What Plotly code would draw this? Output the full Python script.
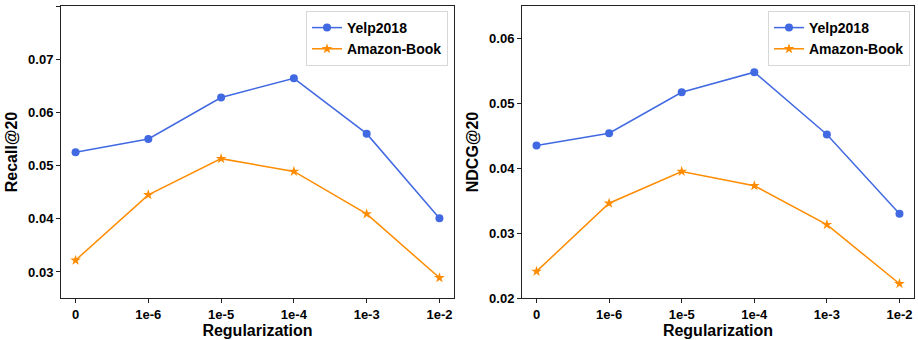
import plotly.graph_objects as go

categories = ["0", "1e-6", "1e-5", "1e-4", "1e-3", "1e-2"]
recall_yelp = [0.0525, 0.0550, 0.0628, 0.0664, 0.0560, 0.0401]
recall_amazon = [0.0322, 0.0445, 0.0513, 0.0489, 0.0409, 0.0289]
ndcg_yelp = [0.0435, 0.0454, 0.0517, 0.0548, 0.0452, 0.0330]
ndcg_amazon = [0.0241, 0.0346, 0.0395, 0.0373, 0.0313, 0.0222]

BLUE = "#4169E1"
ORANGE = "#FF8C00"
FONT = "Liberation Sans"

fig = go.Figure()

def add(y, name, color, symbol, size, xa, ya, legend):
    fig.add_trace(go.Scatter(
        x=categories, y=y, name=name, mode="lines+markers",
        line=dict(color=color, width=1.5),
        marker=dict(symbol=symbol, size=size, color=color),
        xaxis=xa, yaxis=ya, legend=legend,
    ))

add(recall_yelp, "Yelp2018", BLUE, "circle", 8, "x", "y", "legend")
add(recall_amazon, "Amazon-Book", ORANGE, "star", 8, "x", "y", "legend")
add(ndcg_yelp, "Yelp2018", BLUE, "circle", 8, "x2", "y2", "legend2")
add(ndcg_amazon, "Amazon-Book", ORANGE, "star", 8, "x2", "y2", "legend2")

ydom = [42 / 340, 334 / 340]
tickfont = dict(family=FONT, size=13, color="black", weight="bold")
titlefont = dict(family=FONT, size=16, color="black", weight="bold")
common_x = dict(
    type="category", range=[-0.2, 5.2], showline=True, linecolor="#222",
    linewidth=1, mirror=True, ticks="outside", ticklen=4, tickcolor="#222",
    showgrid=False, zeroline=False, automargin=False,
    tickfont=tickfont,
    title=dict(text="Regularization", font=titlefont, standoff=2),
)
common_y = dict(
    showline=True, linecolor="#222", linewidth=1, mirror=True,
    ticks="outside", ticklen=4, tickcolor="#222", showgrid=False, zeroline=False,
    automargin=False, tickfont=tickfont, tickformat=".2f", dtick=0.01,
)

legend_common = dict(
    bgcolor="white", bordercolor="#d8d8d8", borderwidth=1,
    font=dict(family=FONT, size=14, color="black", weight="bold"),
    xanchor="right", yanchor="top", tracegroupgap=0, itemwidth=30,
)

fig.update_layout(
    width=918, height=340,
    margin=dict(l=0, r=0, t=0, b=0),
    paper_bgcolor="white", plot_bgcolor="white",
    font=dict(family=FONT, color="black"),
    xaxis=dict(domain=[61 / 918, 454 / 918], anchor="y", **common_x),
    yaxis=dict(domain=ydom, anchor="x", range=[0.0251, 0.0800],
               title=dict(text="Recall@20", font=titlefont, standoff=6),
               **common_y),
    xaxis2=dict(domain=[522 / 918, 914 / 918], anchor="y2", **common_x),
    yaxis2=dict(domain=ydom, anchor="x2", range=[0.02, 0.065],
                title=dict(text="NDCG@20", font=titlefont, standoff=6),
                **common_y),
    legend=dict(x=448 / 918, y=1 - 11 / 340, **legend_common),
    legend2=dict(x=910 / 918, y=1 - 11 / 340, **legend_common),
)

fig.write_html("out.html")
